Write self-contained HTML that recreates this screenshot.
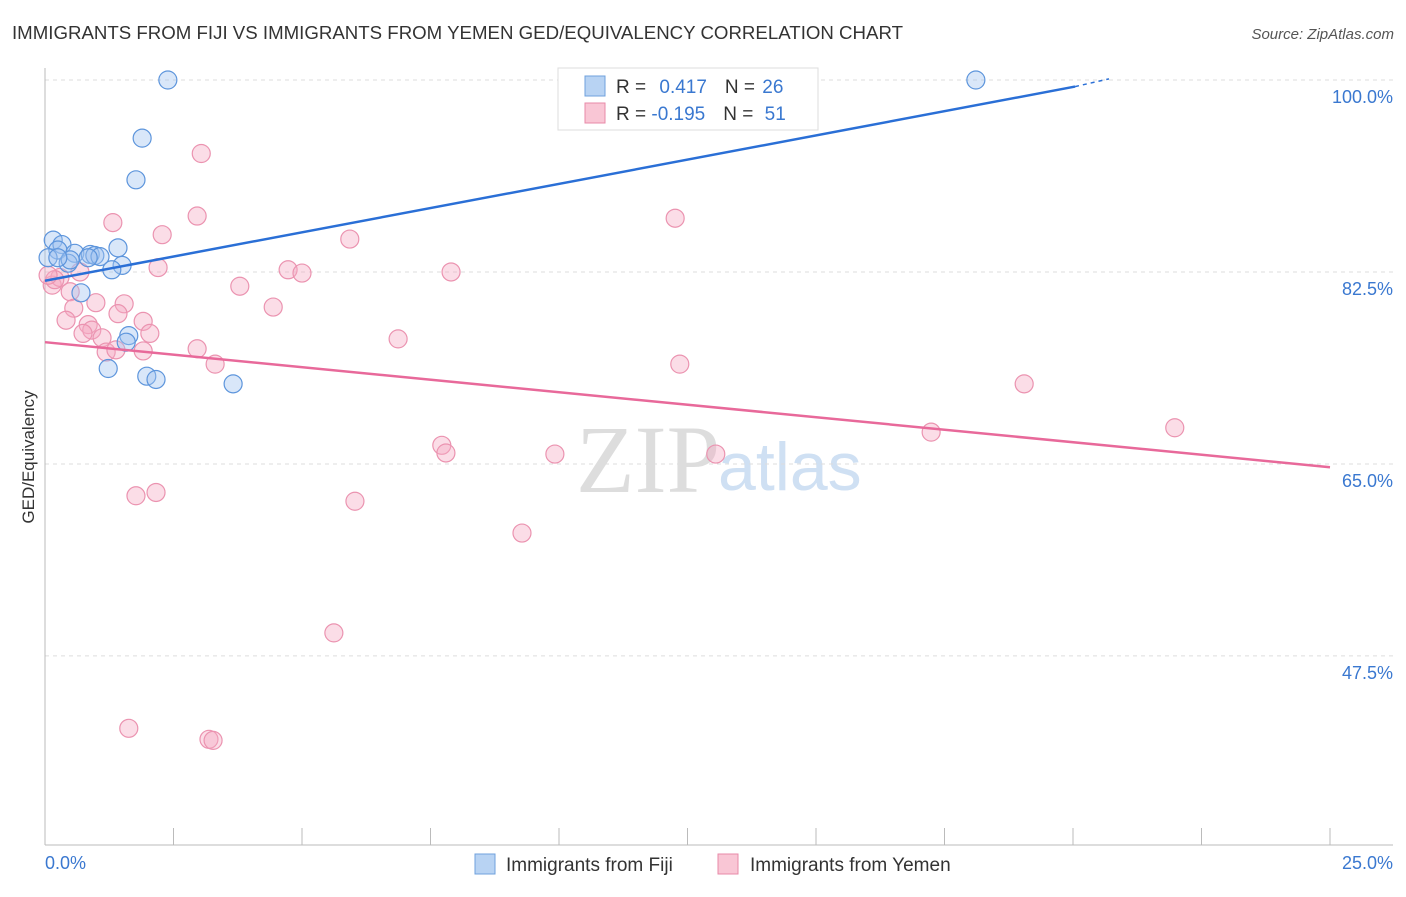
<!DOCTYPE html>
<html><head><meta charset="utf-8"><style>
body{margin:0;background:#fff;font-family:"Liberation Sans",sans-serif}
</style></head><body>
<svg id="chart" width="1406" height="892" xmlns="http://www.w3.org/2000/svg" font-family="Liberation Sans, sans-serif">
<text x="12" y="39" font-size="18" fill="#333" textLength="891" lengthAdjust="spacingAndGlyphs">IMMIGRANTS FROM FIJI VS IMMIGRANTS FROM YEMEN GED/EQUIVALENCY CORRELATION CHART</text>
<text x="1394" y="39" font-size="15" fill="#555" font-style="italic" text-anchor="end">Source: ZipAtlas.com</text>
<text transform="translate(34,457) rotate(-90)" font-size="17" fill="#333" text-anchor="middle">GED/Equivalency</text>
<text x="720" y="492" font-size="96" fill="#ddd" text-anchor="end" font-family="Liberation Serif, serif">ZIP</text>
<text x="718" y="490" font-size="68" fill="#cfe0f3">atlas</text>
<g id="grid"></g><g id="axes"></g><g id="pts"></g><g id="lines"></g>
<g>
<rect x="558" y="68" width="260" height="62" fill="#fff" stroke="#ddd"/>
<rect x="585" y="76" width="20" height="20" fill="#b8d3f3" stroke="#6fa0dc"/>
<rect x="585" y="103" width="20" height="20" fill="#f9c6d5" stroke="#e88aa8"/>
<text x="616" y="93" font-size="19" fill="#333">R = <tspan fill="#3a78d0" dx="8">0.417</tspan><tspan dx="18" fill="#333">N = </tspan><tspan fill="#3a78d0" dx="2">26</tspan></text>
<text x="616" y="120" font-size="19" fill="#333">R = <tspan fill="#3a78d0">-0.195</tspan><tspan dx="18" fill="#333">N = </tspan><tspan fill="#3a78d0" dx="6">51</tspan></text>
</g>
<g>
<rect x="475" y="854" width="20" height="20" fill="#b8d3f3" stroke="#6fa0dc"/>
<text x="506" y="871" font-size="19" fill="#333">Immigrants from Fiji</text>
<rect x="718" y="854" width="20" height="20" fill="#f9c6d5" stroke="#e88aa8"/>
<text x="750" y="871" font-size="19" fill="#333">Immigrants from Yemen</text>
</g>
</svg>
<script>
const fijiX=[2.39,18.11,1.89,1.77,0.16,0.33,0.25,0.58,0.88,0.97,1.07,1.42,0.84,0.45,1.50,1.30,0.70,1.63,1.58,1.23,1.98,2.16,3.66,0.06,0.49,0.25];
const fijiY=[100,100,94.7,90.9,85.4,85.0,84.5,84.2,84.1,84.0,83.9,84.7,83.8,83.3,83.1,82.7,80.6,76.7,76.1,73.7,73.0,72.7,72.3,83.8,83.6,83.8];
const yemenX=[3.04,2.96,1.32,2.28,5.93,12.26,2.20,4.73,5.00,7.90,3.79,0.14,0.29,0.68,0.49,0.99,1.54,4.44,0.56,0.41,1.42,1.91,0.84,0.91,2.04,0.74,1.11,6.87,2.96,1.19,1.38,1.91,3.31,12.35,19.05,21.98,17.24,7.72,7.80,9.92,13.05,1.77,2.16,6.03,9.28,5.62,1.63,3.19,3.27,0.19,0.06];
const yemenY=[93.3,87.6,87.0,85.9,85.5,87.4,82.9,82.7,82.4,82.5,81.2,81.3,82.0,82.5,80.7,79.7,79.6,79.3,79.2,78.1,78.7,78.0,77.7,77.2,76.9,76.9,76.5,76.4,75.5,75.2,75.4,75.3,74.1,74.1,72.3,68.3,67.9,66.7,66.0,65.9,65.9,62.1,62.4,61.6,58.7,49.6,40.9,39.9,39.8,81.8,82.2];
const yTicks=[100,82.5,65,47.5];
const yTickLabels=["100.0%","82.5%","65.0%","47.5%"];
const xTickVals=[0,2.5,5,7.5,10,12.5,15,17.5,20,22.5,25];
const xEndLabels=["0.0%","25.0%"];
const fijiTrend=[[0,81.7],[20.04,99.4],[20.7,100.1]];
const yemenTrend=[[0,76.1],[25,64.7]];
const NS="http://www.w3.org/2000/svg";
const X=v=>45+v*51.4, Y=v=>80+(100-v)*10.97;
function mk(t,a,p){const e=document.createElementNS(NS,t);for(const k in a)e.setAttribute(k,a[k]);p.appendChild(e);return e;}
const grid=document.getElementById('grid'),axes=document.getElementById('axes'),pts=document.getElementById('pts'),lines=document.getElementById('lines');
yTicks.forEach((v,i)=>{
 const l=mk('line',{x1:45,x2:1393,y1:Y(v),y2:Y(v),stroke:'#ddd','stroke-dasharray':'4,4'},grid);
 
 
 const t=mk('text',{x:1393,y:Y(v)+23,'font-size':18,fill:'#3a78d0','text-anchor':'end'},axes);
 t.textContent=yTickLabels[i];
 
 
});
const ax=mk('line',{x1:45,x2:45,y1:68,y2:845,stroke:'#bbb'},axes);


const bx=mk('line',{x1:45,x2:1393,y1:845,y2:845,stroke:'#bbb'},axes);


xTickVals.forEach(v=>{
 const t=mk('line',{x1:X(v),x2:X(v),y1:828,y2:845,stroke:'#bbb'},axes);
 
 
});
[[0,'start'],[25,'end']].forEach((p,i)=>{
 const t=mk('text',{x:i?1393:45,y:869,'font-size':18,fill:'#3a78d0','text-anchor':p[1]},axes);
 t.textContent=xEndLabels[i];
 
 
});
yemenX.forEach((v,i)=>{
 const c=mk('circle',{cx:X(v),cy:Y(yemenY[i]),r:9,fill:'rgba(246,170,195,0.4)',stroke:'#eb93b0','stroke-width':1.2},pts);
 
 
});
fijiX.forEach((v,i)=>{
 const c=mk('circle',{cx:X(v),cy:Y(fijiY[i]),r:9,fill:'rgba(160,195,240,0.4)',stroke:'#5d95dc','stroke-width':1.2},pts);
 
 
});
const f1=mk('line',{x1:X(fijiTrend[0][0]),y1:Y(fijiTrend[0][1]),x2:X(fijiTrend[1][0]),y2:Y(fijiTrend[1][1]),stroke:'#2a6fd6','stroke-width':2.5},lines);


const f2=mk('line',{x1:X(fijiTrend[1][0]),y1:Y(fijiTrend[1][1]),x2:X(fijiTrend[2][0]),y2:Y(fijiTrend[2][1]),stroke:'#2a6fd6','stroke-width':1.5,'stroke-dasharray':'4,4'},lines);


const y1=mk('line',{x1:X(yemenTrend[0][0]),y1:Y(yemenTrend[0][1]),x2:X(yemenTrend[1][0]),y2:Y(yemenTrend[1][1]),stroke:'#e8699a','stroke-width':2.5},lines);


</script>
</body></html>
